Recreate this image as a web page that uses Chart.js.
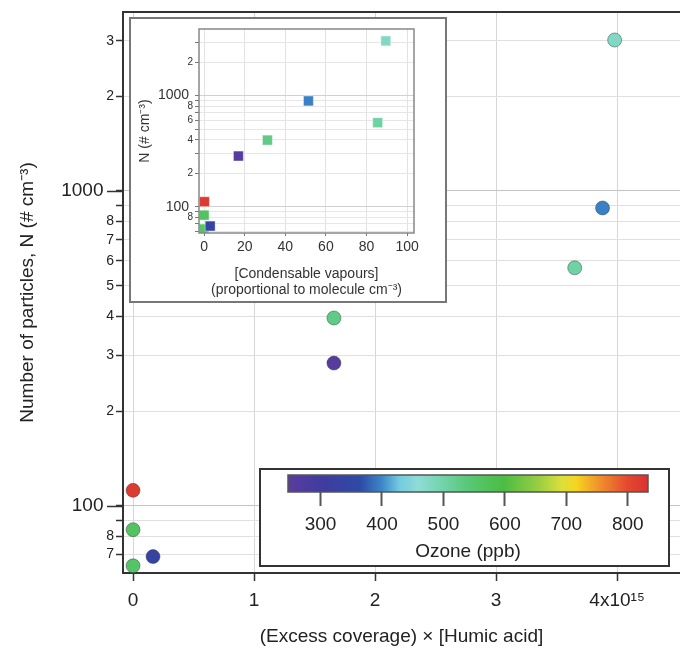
<!DOCTYPE html>
<html>
<head>
<meta charset="utf-8">
<script src="https://cdn.jsdelivr.net/npm/chart.js@4"></script>
<style>
body{margin:0;background:#fff;}
#wrap{position:relative;width:680px;height:654px;overflow:hidden;}
canvas{position:absolute;}
#main{left:0;top:0;}
#inset{left:129px;top:17px;}
#cbar{left:259px;top:468px;}
</style>
</head>
<body>
<div id="wrap">
<canvas id="main" width="680" height="654"></canvas>
<canvas id="inset" width="318" height="286"></canvas>
<canvas id="cbar" width="411" height="99"></canvas>
</div>
<script>
// one entry per experiment
const coverage = [0, 0, 0, 0.165, 1.66, 1.66, 3.65, 3.88, 3.98];      // x 10^15
const particles = [112, 84, 64.5, 69, 284, 395, 570, 883, 3015];       // # cm-3, main plot
const vapours = [0.2, 0, 0, 3, 16.9, 31.2, 85.5, 51.4, 89.5];          // inset x
const particlesInset = [111, 84, 63, 67, 286, 398, 571, 896, 3110];    // inset y
const ozone = [820, 565, 560, 335, 258, 528, 505, 396, 476];           // ppb

const mainYTicks = [70, 80, 90, 100, 200, 300, 400, 500, 600, 700, 800, 900, 1000, 2000, 3000];
const mainYLabels = ['7', '8', '', '100', '2', '3', '4', '5', '6', '7', '8', '', '1000', '2', '3'];
const mainXTicks = [0, 1, 2, 3, 4];
const mainXLabels = ['0', '1', '2', '3', '4x10\u00b9\u2075'];

const insetXTicks = [0, 20, 40, 60, 80, 100];
const insetYTicks = [60, 70, 80, 90, 100, 200, 300, 400, 500, 600, 700, 800, 900, 1000, 2000, 3000];
const insetYLabels = ['', '', '8', '', '100', '2', '', '4', '', '6', '', '8', '', '1000', '2', ''];
const ozoneTicks = [300, 400, 500, 600, 700, 800];

const OZ_MIN = 247, OZ_MAX = 833;
const stops = [
  [0.00, '#5a3c9e'], [0.10, '#3f3c9f'], [0.20, '#2e4aa6'], [0.26, '#3c86c8'],
  [0.31, '#74cbe0'], [0.36, '#8fdcd6'], [0.42, '#76d5b2'], [0.50, '#58c876'],
  [0.60, '#4cbc44'], [0.70, '#9ccf42'], [0.76, '#dcdf3a'], [0.80, '#f6d520'],
  [0.87, '#f08c2c'], [0.94, '#e64a2e'], [1.00, '#d83232']
];

function hex2rgb(h){ return [1,3,5].map(i => parseInt(h.substr(i,2),16)); }
function colormap(v){
  let f = (v - OZ_MIN) / (OZ_MAX - OZ_MIN);
  f = Math.max(0, Math.min(1, f));
  for (let i = 1; i < stops.length; i++) {
    if (f <= stops[i][0]) {
      const a = stops[i-1], b = stops[i];
      const t = (f - a[0]) / (b[0] - a[0]);
      const ca = hex2rgb(a[1]), cb = hex2rgb(b[1]);
      const c = ca.map((x, k) => Math.round(x + (cb[k] - x) * t));
      return 'rgb(' + c.join(',') + ')';
    }
  }
  return stops[stops.length-1][1];
}
const pointColors = ozone.map(colormap);

const FONT = 'Liberation Sans, Arial, Helvetica, sans-serif';
Chart.defaults.font.family = FONT;
Chart.defaults.color = '#222';

function setTicks(list){
  return scale => { scale.ticks = list.map(v => ({value: v})); };
}

// top border line + long major ticks on main plot
const mainFrame = {
  id: 'mainFrame',
  afterDraw(chart){
    const ctx = chart.ctx, a = chart.chartArea, y = chart.scales.y;
    ctx.save();
    ctx.strokeStyle = '#333';
    ctx.lineWidth = 2;
    ctx.beginPath();
    ctx.moveTo(a.left - 1, a.top);
    ctx.lineTo(a.right, a.top);
    ctx.stroke();
    ctx.lineWidth = 1.5;
    [100, 1000].forEach(v => {
      const p = Math.round(y.getPixelForValue(v)) + 0.5;
      ctx.beginPath();
      ctx.moveTo(a.left - 16, p);
      ctx.lineTo(a.left, p);
      ctx.stroke();
    });
    ctx.restore();
  }
};

new Chart(document.getElementById('main'), {
  type: 'scatter',
  data: {
    datasets: [{
      data: coverage.map((x, i) => ({x: x, y: particles[i]})),
      backgroundColor: pointColors,
      borderColor: 'rgba(40,60,60,0.45)',
      borderWidth: 1,
      pointRadius: 7,
      pointHoverRadius: 7
    }]
  },
  options: {
    responsive: false,
    animation: false,
    layout: {autoPadding: false, padding: {top: 12, right: 0, left: 0, bottom: 0}},
    plugins: {legend: {display: false}, tooltip: {enabled: false}},
    scales: {
      x: {
        type: 'linear', min: -0.083, max: 4.52,
        afterBuildTicks: setTicks(mainXTicks),
        afterFit: s => { s.height = 81; },
        grid: {color: '#d6d6d6', tickColor: '#333', tickLength: 8, tickWidth: 1.5},
        border: {color: '#333', width: 2},
        ticks: {
          font: {size: 19}, color: '#222', padding: 8, maxRotation: 0,
          callback: v => mainXLabels[mainXTicks.indexOf(v)]
        },
        title: {display: true, text: '(Excess coverage) \u00d7 [Humic acid]', font: {size: 19}, color: '#222', padding: {top: 0, bottom: 6}}
      },
      y: {
        type: 'logarithmic', min: 61.2, max: 3700,
        afterBuildTicks: setTicks(mainYTicks),
        afterFit: s => { s.width = 123; },
        grid: {
          color: c => (c.tick && (c.tick.value === 100 || c.tick.value === 1000)) ? '#c4c4c4' : '#e0e0e0',
          tickColor: '#333', tickLength: 7, tickWidth: 1.5
        },
        border: {color: '#333', width: 2},
        ticks: {
          color: '#222', padding: 2, autoSkip: false,
          font: c => (c.tick && (c.tick.value === 100 || c.tick.value === 1000)) ? {size: 19} : {size: 14},
          callback: v => {
            const l = mainYLabels[mainYTicks.indexOf(v)];
            return (l === '100' || l === '1000') ? l + '  ' : l;
          }
        },
        title: {display: true, text: 'Number of particles, N (# cm\u207b\u00b3)', font: {size: 19}, color: '#222', padding: {top: 16, bottom: 0}}
      }
    }
  },
  plugins: [mainFrame]
});

// inset: white box with border, plot frame
const insetFrame = {
  id: 'insetFrame',
  beforeDraw(chart){
    const ctx = chart.ctx;
    ctx.save();
    ctx.fillStyle = '#fff';
    ctx.fillRect(0, 0, chart.width, chart.height);
    ctx.restore();
  },
  afterDraw(chart){
    const ctx = chart.ctx, a = chart.chartArea;
    ctx.save();
    ctx.strokeStyle = '#777';
    ctx.lineWidth = 2;
    ctx.strokeRect(1, 1, chart.width - 2, chart.height - 2);
    ctx.strokeStyle = '#888';
    ctx.lineWidth = 1.5;
    ctx.strokeRect(a.left, a.top, a.right - a.left, a.bottom - a.top);
    ctx.restore();
  }
};

new Chart(document.getElementById('inset'), {
  type: 'scatter',
  data: {
    datasets: [{
      data: vapours.map((x, i) => ({x: x, y: particlesInset[i]})),
      backgroundColor: pointColors,
      borderColor: 'rgba(255,255,255,0.4)',
      borderWidth: 1,
      pointStyle: 'rect',
      pointRadius: 7,
      pointHoverRadius: 7
    }]
  },
  options: {
    responsive: false,
    animation: false,
    layout: {autoPadding: false, padding: {top: 12, right: 33, left: 0, bottom: 0}},
    plugins: {legend: {display: false}, tooltip: {enabled: false}},
    scales: {
      x: {
        type: 'linear', min: -2.5, max: 103.4,
        afterBuildTicks: setTicks(insetXTicks),
        ticks: {font: {size: 14}, color: '#333', padding: 3, maxRotation: 0},
        afterFit: s => { s.height = 70; },
        grid: {color: '#e2e2e2', tickColor: '#777', tickLength: 3},
        border: {display: false},
        title: {display: true, text: ['[Condensable vapours]', '(proportional to molecule cm\u207b\u00b3)'], font: {size: 14}, color: '#333', padding: {top: 2, bottom: 4}}
      },
      y: {
        type: 'logarithmic', min: 58, max: 3980,
        afterBuildTicks: setTicks(insetYTicks),
        afterFit: s => { s.width = 70; },
        grid: {
          color: c => (c.tick && (c.tick.value === 100 || c.tick.value === 1000)) ? '#d0d0d0' : '#e6e6e6',
          tickColor: '#777', tickLength: 4
        },
        border: {display: false},
        ticks: {
          color: '#333', padding: 2, autoSkip: false,
          font: c => (c.tick && (c.tick.value === 100 || c.tick.value === 1000)) ? {size: 14} : {size: 10},
          callback: v => {
            const l = insetYLabels[insetYTicks.indexOf(v)];
            return (l === '100' || l === '1000') ? l + ' ' : l;
          }
        },
        title: {display: true, text: 'N (# cm\u207b\u00b3)', font: {size: 14}, color: '#333', padding: {top: 8, bottom: 0}}
      }
    }
  },
  plugins: [insetFrame]
});

// colour bar legend
const colorBar = {
  id: 'colorBar',
  beforeDraw(chart){
    const ctx = chart.ctx;
    ctx.save();
    ctx.fillStyle = '#fff';
    ctx.fillRect(0, 0, chart.width, chart.height);
    ctx.restore();
  },
  beforeDatasetsDraw(chart){
    const ctx = chart.ctx, a = chart.chartArea;
    const g = ctx.createLinearGradient(a.left, 0, a.right, 0);
    stops.forEach(s => g.addColorStop(s[0], s[1]));
    ctx.save();
    ctx.fillStyle = g;
    ctx.fillRect(a.left, a.top, a.right - a.left, a.bottom - a.top);
    ctx.strokeStyle = '#555';
    ctx.lineWidth = 1.5;
    ctx.strokeRect(a.left, a.top, a.right - a.left, a.bottom - a.top);
    ctx.strokeStyle = '#333';
    ctx.lineWidth = 2;
    ctx.strokeRect(1, 1, chart.width - 2, chart.height - 2);
    ctx.restore();
  }
};

new Chart(document.getElementById('cbar'), {
  type: 'scatter',
  data: {datasets: [{data: []}]},
  options: {
    responsive: false,
    animation: false,
    layout: {autoPadding: false, padding: {top: 7, right: 22, left: 29, bottom: 0}},
    plugins: {legend: {display: false}, tooltip: {enabled: false}},
    scales: {
      x: {
        type: 'linear', min: OZ_MIN, max: OZ_MAX,
        afterBuildTicks: setTicks(ozoneTicks),
        afterFit: s => { s.height = 75; },
        grid: {drawOnChartArea: false, tickColor: '#555', tickLength: 14, tickWidth: 2},
        border: {display: false},
        ticks: {font: {size: 19}, color: '#222', padding: 7, maxRotation: 0},
        title: {display: true, text: 'Ozone (ppb)', font: {size: 19}, color: '#222', padding: {top: 0, bottom: 4}}
      },
      y: {display: false, min: 0, max: 1}
    }
  },
  plugins: [colorBar]
});
</script>
</body>
</html>
